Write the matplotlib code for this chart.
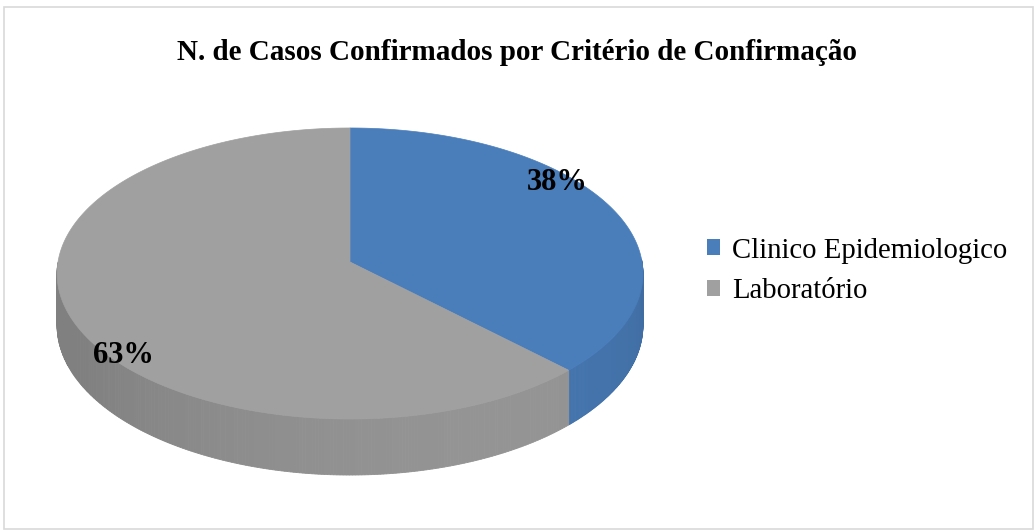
import numpy as np
import matplotlib
matplotlib.use("Agg")
import matplotlib.pyplot as plt
from matplotlib.patches import Patch, Rectangle

# ---- data ----
categories = ["Clinico Epidemiologico", "Laboratório"]
values = [37.5, 62.5]
pct_labels = ["38%", "63%"]
title = "N. de Casos Confirmados por Critério de Confirmação"

# ---- style ----
top_colors = [np.array([74, 126, 187]) / 255, np.array([160, 160, 160]) / 255]
W, H = 1034, 530
DPI = 100

fig = plt.figure(figsize=(W / DPI, H / DPI), dpi=DPI)
ax = fig.add_axes([0, 0, 1, 1])
ax.set_xlim(0, W)
ax.set_ylim(H, 0)
ax.axis("off")

# chart-area border
ax.add_patch(Rectangle((3.5, 6.5), 1029, 522, fill=False, edgecolor="#D9D9D9", lw=1.2))

# ---- 3D pie geometry (perspective) ----
cx, cy = 350.0, 262.0     # projected pie centre
sx, sy = 292.0, 144.6     # radii scale
k = 0.079                 # perspective strength
depth = 51.6              # thickness


def proj(t, r=1.0, z=0.0):
    x = r * np.cos(t)
    y = r * np.sin(t)
    w = 1 + k * y
    return cx + sx * x / w, cy - sy * y / w + depth * z / w


fracs = np.array(values) / np.sum(values)
start = np.pi / 2
bounds = [start]
for f in fracs:
    bounds.append(bounds[-1] - 2 * np.pi * f)


def shade_factor(t):
    return 0.80 + 0.125 * max(0.0, np.cos(t - np.deg2rad(-60)))


# side walls (front half visible), drawn first
for i, f in enumerate(fracs):
    a0, a1 = bounds[i], bounds[i + 1]  # a0 > a1 (clockwise)
    ts = np.linspace(a1, a0, 400)
    for j in range(len(ts) - 1):
        tm = 0.5 * (ts[j] + ts[j + 1])
        tmn = (tm + np.pi) % (2 * np.pi) - np.pi
        if tmn > 0.02 or tmn < -np.pi - 0.02:
            continue
        if np.sin(tm) > 0.05:
            continue
        xa, ya = proj(ts[j])
        xb, yb = proj(ts[j + 1])
        xc, yc = proj(ts[j + 1], z=1)
        xd, yd = proj(ts[j], z=1)
        col = np.clip(top_colors[i] * shade_factor(tmn), 0, 1)
        ax.fill([xa, xb, xc, xd], [ya, yb, yc, yd], color=col, lw=0.6,
                edgecolor=col, antialiased=True)

# top faces
for i, f in enumerate(fracs):
    a0, a1 = bounds[i], bounds[i + 1]
    ts = np.linspace(a0, a1, 300)
    xs, ys = proj(ts)
    xs = np.concatenate([[cx], xs])
    ys = np.concatenate([[cy], ys])
    ax.fill(xs, ys, color=top_colors[i], lw=0.5, edgecolor=top_colors[i])

# percentage labels
label_pos = [(np.deg2rad(37.8), 0.94), (np.deg2rad(219.8), 0.96)]
for (t, r), lab in zip(label_pos, pct_labels):
    x, y = proj(t, r)
    ax.text(x, y, lab, ha="center", va="center", fontsize=22,
            fontweight="bold", family=["Liberation Serif", "DejaVu Serif"])

# title
fig.text(0.5, 1 - 53 / H, title, ha="center", va="center", fontsize=21,
         fontweight="bold", family=["Liberation Serif", "DejaVu Serif"])

# legend
handles = [Patch(facecolor=c, edgecolor="none") for c in top_colors]
leg = fig.legend(handles, categories, loc="center left",
                 bbox_to_anchor=(701 / W, 1 - 271 / H), frameon=False,
                 prop={"family": ["Liberation Serif", "DejaVu Serif"], "size": 20.7},
                 handlelength=0.46, handleheight=0.46, handletextpad=0.42,
                 labelspacing=0.52, borderpad=0.2, borderaxespad=0)

fig.savefig("out.png", dpi=DPI, facecolor="white")
